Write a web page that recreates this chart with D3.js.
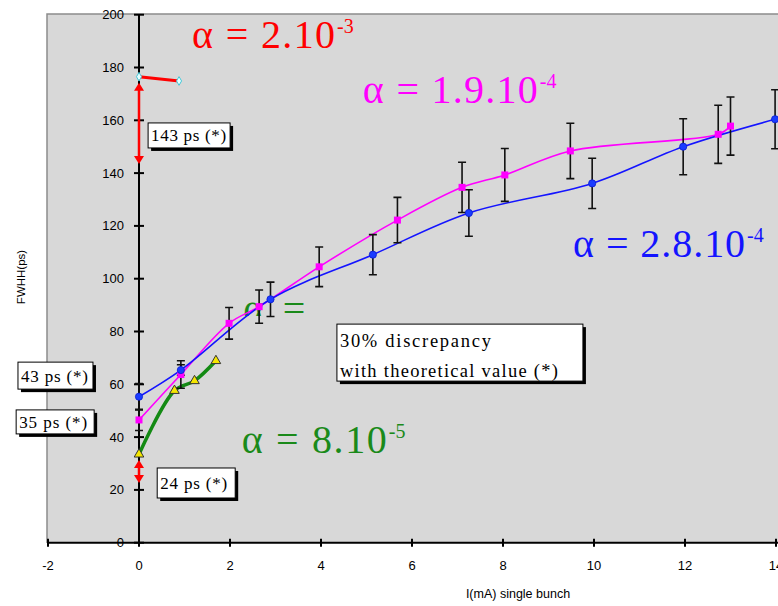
<!DOCTYPE html>
<html>
<head>
<meta charset="utf-8">
<script src="https://cdn.jsdelivr.net/npm/d3@7/dist/d3.min.js"></script>
<style>
  html, body { margin: 0; padding: 0; background: #ffffff; }
  svg { display: block; }
</style>
</head>
<body>
<script>
// ---- data ---------------------------------------------------------------
const xTickValues = [-2, 0, 2, 4, 6, 8, 10, 12, 14];
const yTickValues = [0, 20, 40, 60, 80, 100, 120, 140, 160, 180, 200];

// alpha = 2.8e-4 (blue, circles)
const blueCurrent = [0, 0.92, 2.89, 5.14, 7.25, 9.96, 11.96, 13.98];
const blueFwhh    = [55.3, 65.4, 92.2, 109.1, 124.9, 136.1, 150.0, 160.4];
const blueError   = [5, 2, 6.5, 7.6, 8.8, 9.5, 10.6, 11.2];

// alpha = 1.9e-4 (magenta, squares)
const magentaCurrent = [0, 0.92, 1.98, 2.64, 3.96, 5.68, 7.1, 8.04, 9.48, 12.73, 13.0];
const magentaFwhh    = [46.5, 63.7, 83.1, 89.4, 104.5, 122.2, 134.6, 139.3, 148.4, 154.7, 157.8];
const magentaError   = [4, 5.2, 6, 6.3, 7.5, 8.6, 9.5, 10, 10.5, 11, 11];

// alpha = 8e-5 (green line, yellow triangles)
const greenCurrent = [0, 0.78, 1.22, 1.69];
const greenFwhh    = [33.5, 57.6, 61.3, 68.9];

// alpha = 2e-3 (red line, diamonds)
const redCurrent = [0, 0.88];
const redFwhh    = [176.5, 174.9];

// theoretical bunch lengths at zero current (red double arrows)
const arrowSpans = [[143.4, 174.2], [22.6, 31.3]];

// ---- layout -------------------------------------------------------------
const W = 778, H = 606;
const svg = d3.select("body").append("svg").attr("width", W).attr("height", H);

const x = d3.scaleLinear().domain([-2, 14]).range([48, 776]);
const y = d3.scaleLinear().domain([0, 200]).range([542.7, 14.7]);

const serif = "'Liberation Serif', 'Times New Roman', serif";
const sans = "'Liberation Sans', Arial, sans-serif";

// plot area
svg.append("rect")
  .attr("x", 47).attr("y", 14).attr("width", 760).attr("height", 529)
  .attr("fill", "#d8d8d8");
svg.append("path")
  .attr("d", "M47,543V14H778")
  .attr("fill", "none").attr("stroke", "#8c8c8c").attr("stroke-width", 1.5);

// axes crossing at the origin
const gx = svg.append("g").attr("transform", `translate(0,${y(0)})`);
gx.append("line").attr("x1", 47).attr("x2", 778).attr("stroke", "#000").attr("stroke-width", 2);
gx.selectAll("line.tick").data(xTickValues).join("line")
  .attr("class", "tick")
  .attr("x1", d => x(d)).attr("x2", d => x(d))
  .attr("y1", -4).attr("y2", 4)
  .attr("stroke", "#000").attr("stroke-width", 2);
gx.selectAll("text").data(xTickValues).join("text")
  .attr("x", d => x(d)).attr("y", 27)
  .attr("text-anchor", "middle")
  .attr("font-family", sans).attr("font-size", 13)
  .attr("fill", "#000")
  .text(d => d);

const gy = svg.append("g").attr("transform", `translate(${x(0)},0)`);
gy.append("line").attr("y1", 14).attr("y2", y(0)).attr("stroke", "#000").attr("stroke-width", 2);
gy.selectAll("line.tick").data(yTickValues).join("line")
  .attr("class", "tick")
  .attr("y1", d => y(d)).attr("y2", d => y(d))
  .attr("x1", -5).attr("x2", 5)
  .attr("stroke", "#000").attr("stroke-width", 2);
gy.selectAll("text").data(yTickValues).join("text")
  .attr("x", -15).attr("y", d => y(d) + 4.5)
  .attr("text-anchor", "end")
  .attr("font-family", sans).attr("font-size", 13)
  .attr("fill", "#000")
  .text(d => d);

// axis titles
svg.append("text")
  .attr("x", 518).attr("y", 598)
  .attr("text-anchor", "middle")
  .attr("font-family", sans).attr("font-size", 12.5)
  .text("I(mA) single bunch");
svg.append("text")
  .attr("transform", "translate(25,277) rotate(-90)")
  .attr("text-anchor", "middle")
  .attr("font-family", sans).attr("font-size", 11.5)
  .text("FWHH(ps)");

// partly hidden label fragment behind the curves
svg.append("clipPath").attr("id", "fragClip")
  .append("rect").attr("x", 230).attr("y", 301).attr("width", 100).attr("height", 15);
svg.append("text")
  .attr("x", x(2.29)).attr("y", y(83.6))
  .attr("clip-path", "url(#fragClip)")
  .attr("font-family", serif).attr("font-size", 40)
  .attr("fill", "#1a8a1a")
  .attr("textLength", 62).attr("lengthAdjust", "spacing")
  .attr("xml:space", "preserve")
  .text("\u03b1 =");

// ---- curves ---------------------------------------------------------------
const zip = (xs, ys) => xs.map((v, i) => [v, ys[i]]);
const curve = d3.line().x(d => x(d[0])).y(d => y(d[1])).curve(d3.curveCatmullRom.alpha(0.5));

svg.append("path").attr("d", curve(zip(redCurrent, redFwhh)))
  .attr("fill", "none").attr("stroke", "#ff0000").attr("stroke-width", 3);
svg.append("path").attr("d", curve(zip(greenCurrent, greenFwhh)))
  .attr("fill", "none").attr("stroke", "#138a13").attr("stroke-width", 3.5);
svg.append("path").attr("d", curve(zip(magentaCurrent, magentaFwhh)))
  .attr("fill", "none").attr("stroke", "#ff00ff").attr("stroke-width", 1.6);
svg.append("path").attr("d", curve(zip(blueCurrent, blueFwhh)))
  .attr("fill", "none").attr("stroke", "#1414ff").attr("stroke-width", 1.6);

// error bars
function errorBars(xs, ys, es) {
  const g = svg.append("g").attr("stroke", "#111").attr("stroke-width", 1.6).attr("fill", "none");
  xs.forEach((v, i) => {
    const px = x(v), top = y(ys[i] + es[i]), bot = y(ys[i] - es[i]);
    g.append("path").attr("d", `M${px},${top}V${bot}M${px - 4},${top}H${px + 4}M${px - 4},${bot}H${px + 4}`);
  });
}
errorBars(magentaCurrent, magentaFwhh, magentaError);
errorBars(blueCurrent, blueFwhh, blueError);

// markers
svg.append("g").selectAll("rect").data(zip(magentaCurrent, magentaFwhh)).join("rect")
  .attr("x", d => x(d[0]) - 3.5).attr("y", d => y(d[1]) - 3.5)
  .attr("width", 7).attr("height", 7)
  .attr("fill", "#ff00ff");
svg.append("g").selectAll("circle").data(zip(blueCurrent, blueFwhh)).join("circle")
  .attr("cx", d => x(d[0])).attr("cy", d => y(d[1])).attr("r", 3.6)
  .attr("fill", "#1a3cff").attr("stroke", "#0a1ad0").attr("stroke-width", 0.8);
svg.append("g").selectAll("path").data(zip(greenCurrent, greenFwhh)).join("path")
  .attr("d", d3.symbol(d3.symbolTriangle, 40))
  .attr("transform", d => `translate(${x(d[0])},${y(d[1])})`)
  .attr("fill", "#f5e600").attr("stroke", "#333").attr("stroke-width", 1);
svg.append("g").selectAll("path").data(zip(redCurrent, redFwhh)).join("path")
  .attr("d", d3.symbol(d3.symbolDiamond, 22))
  .attr("transform", d => `translate(${x(d[0])},${y(d[1])})`)
  .attr("fill", "#e8ffff").attr("stroke", "#44c8d8").attr("stroke-width", 1);

// double arrows on the zero-current axis
arrowSpans.forEach(([lo, hi]) => {
  const px = x(0), yl = y(lo), yh = y(hi);
  const g = svg.append("g");
  g.append("line").attr("x1", px).attr("x2", px).attr("y1", yh + 6).attr("y2", yl - 6)
    .attr("stroke", "#ff0000").attr("stroke-width", 2.5);
  g.append("path").attr("d", `M${px},${yh}L${px - 5},${yh + 8}L${px + 5},${yh + 8}Z`).attr("fill", "#ff0000");
  g.append("path").attr("d", `M${px},${yl}L${px - 5},${yl - 8}L${px + 5},${yl - 8}Z`).attr("fill", "#ff0000");
});

// ---- alpha labels -----------------------------------------------------------
const alphaLabels = [
  { main: "\u03b1 = 2.10",   sup: "-3", color: "#ff0000", at: [1.165, 187.4], width: 143 },
  { main: "\u03b1 = 1.9.10", sup: "-4", color: "#ff00ff", at: [4.92, 166.5],  width: 175 },
  { main: "\u03b1 = 2.8.10", sup: "-4", color: "#1414ff", at: [9.54, 108.2],  width: 172 },
  { main: "\u03b1 = 8.10",   sup: "-5", color: "#1a8a1a", at: [2.26, 34.0],   width: 145 }
];
alphaLabels.forEach(l => {
  const px = x(l.at[0]), py = y(l.at[1]);
  svg.append("text")
    .attr("x", px).attr("y", py)
    .attr("font-family", serif).attr("font-size", 40)
    .attr("fill", l.color)
    .attr("textLength", l.width).attr("lengthAdjust", "spacing")
    .attr("xml:space", "preserve")
    .text(l.main);
  svg.append("text")
    .attr("x", px + l.width + 2).attr("y", py - 15)
    .attr("font-family", serif).attr("font-size", 20)
    .attr("fill", l.color)
    .text(l.sup);
});

// ---- boxed notes ------------------------------------------------------------
const notes = [
  { lines: ["143 ps (*)"], at: [0.2, 159], w: 82, h: 25, tl: [75] },
  { lines: ["43 ps (*)"],  at: [-2.66, 68.4], w: 75, h: 27, tl: [67] },
  { lines: ["35 ps (*)"],  at: [-2.70, 50.3], w: 78, h: 24, tl: [68] },
  { lines: ["24 ps (*)"],  at: [0.4, 28.3], w: 78, h: 30, tl: [67] },
  { lines: ["30% discrepancy", "with theoretical value (*)"], at: [4.35, 82.8], w: 246, h: 57, tl: [151, 218] }
];
notes.forEach(n => {
  const px = x(n.at[0]), py = y(n.at[1]);
  const multi = n.lines.length > 1;
  svg.append("rect").attr("x", px + 3).attr("y", py + 3).attr("width", n.w).attr("height", n.h).attr("fill", "#000");
  svg.append("rect").attr("x", px).attr("y", py).attr("width", n.w).attr("height", n.h)
    .attr("fill", "#fff").attr("stroke", "#000").attr("stroke-width", 1);
  n.lines.forEach((t, i) => {
    svg.append("text")
      .attr("x", px + 3)
      .attr("y", multi ? py + 23 + i * 30 : py + n.h / 2 + 6)
      .attr("font-family", serif).attr("font-size", multi ? 18.5 : 17)
      .attr("fill", "#000")
      .attr("textLength", n.tl[i]).attr("lengthAdjust", "spacing")
      .text(t);
  });
});
</script>
</body>
</html>
